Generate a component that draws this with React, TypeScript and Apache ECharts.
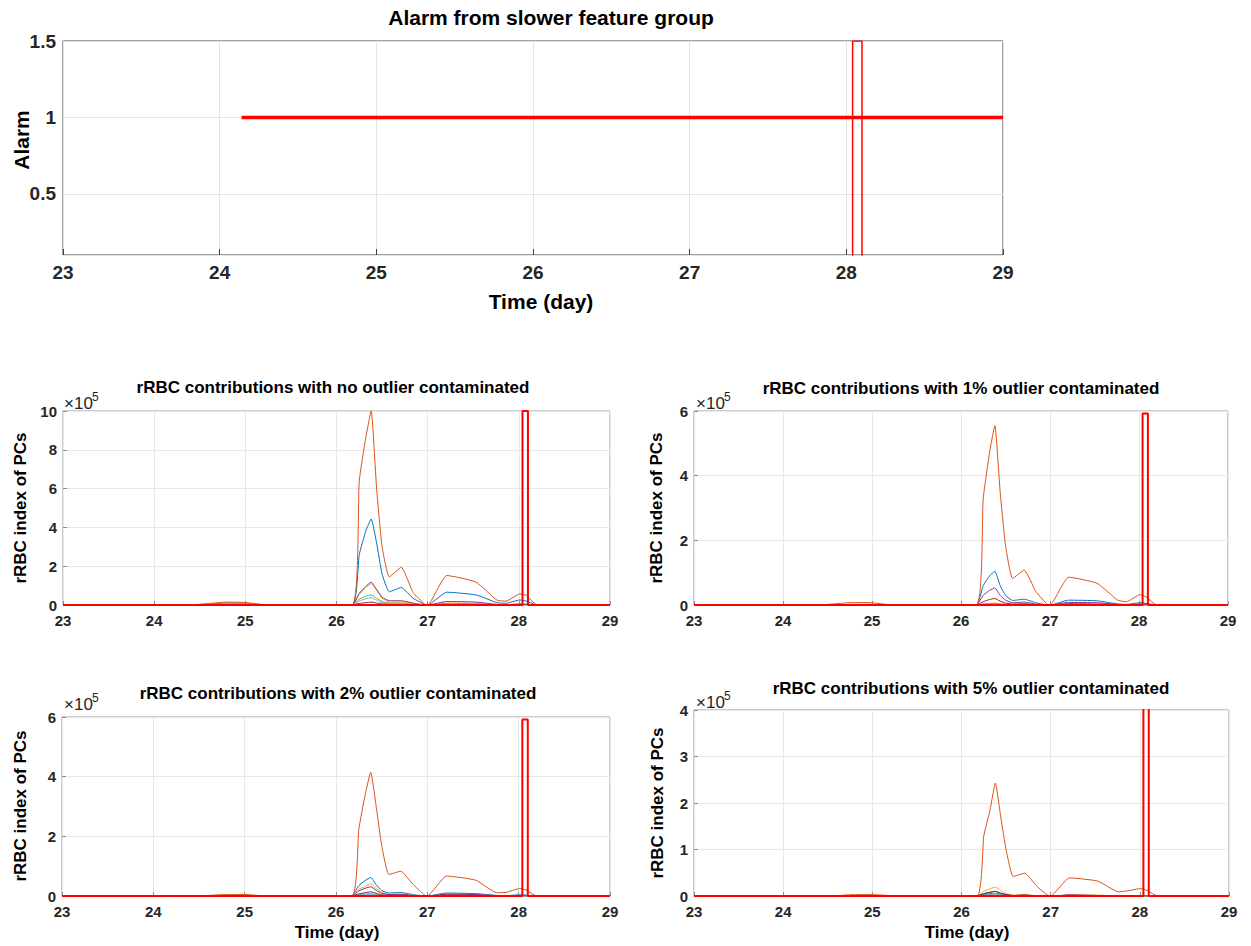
import React, { useEffect, useRef } from 'react';
import * as echarts from 'echarts';

const FONT = '"Liberation Sans", Arial, Helvetica, sans-serif';

// Shared time axis (days) for the contribution curves
const T = [23, 24.4, 24.6, 24.8, 25.0, 25.2, 26.17, 26.25, 26.32, 26.38, 26.44, 26.5, 26.58, 26.71, 26.84, 26.97, 27.0, 27.21, 27.53, 27.76, 27.86, 28.01, 28.08, 28.2, 29];

// Top chart: alarm from slower feature group
const alarmOnT = [24.14, 29];
const alarmOnV = [1, 1];
const blipT = [28.04, 28.04, 28.1, 28.1];
const blipV = [0, 1.5, 1.5, 0];

// Alarm overlay (red) in the contribution subplots (x10^5 units)
const alarmT = [23, 28.04, 28.04, 28.1, 28.1, 29];
const alarmA = [0, 0, 10, 10, 0, 0];
const alarmB = [0, 0, 5.92, 5.92, 0, 0];
const alarmC = [0, 0, 5.92, 5.92, 0, 0];
const alarmD = [0, 0, 5, 5, 0, 0];

// No outlier contaminated (x10^5)
const A_blue = [0, 0, 0.05, 0.1, 0.09, 0.02, 0, 2.6, 3.8, 4.43, 3.2, 1.6, 0.68, 0.9, 0.35, 0.02, 0, 0.66, 0.52, 0.12, 0.09, 0.26, 0.2, 0, 0];
const A_orange = [0, 0, 0.08, 0.15, 0.13, 0.02, 0, 6.4, 8.6, 10.0, 6.0, 3.0, 1.45, 1.95, 0.65, 0.03, 0, 1.52, 1.18, 0.25, 0.2, 0.57, 0.5, 0, 0];
const A_yellow = [0, 0, 0.03, 0.06, 0.05, 0.01, 0, 0.55, 0.9, 1.1, 0.75, 0.35, 0.15, 0.16, 0.07, 0, 0, 0.1, 0.08, 0.02, 0.01, 0.04, 0.03, 0, 0];
const A_purple = [0, 0, 0.02, 0.04, 0.03, 0, 0, 0.6, 0.95, 1.18, 0.8, 0.4, 0.22, 0.22, 0.1, 0, 0, 0.18, 0.15, 0.03, 0.02, 0.05, 0.04, 0, 0];
const A_green = [0, 0, 0.01, 0.02, 0.02, 0, 0, 0.3, 0.45, 0.52, 0.35, 0.18, 0.1, 0.1, 0.04, 0, 0, 0.08, 0.06, 0.01, 0.01, 0.02, 0.02, 0, 0];
const A_lightblue = [0, 0, 0.01, 0.02, 0.01, 0, 0, 0.2, 0.32, 0.38, 0.25, 0.12, 0.06, 0.06, 0.03, 0, 0, 0.04, 0.03, 0.01, 0, 0.01, 0.01, 0, 0];
const A_darkred = [0, 0, 0, 0.01, 0.01, 0, 0, 0.08, 0.12, 0.15, 0.1, 0.05, 0.03, 0.03, 0.01, 0, 0, 0.02, 0.02, 0, 0, 0.01, 0.01, 0, 0];

// 1% outlier contaminated
const B_blue = [0, 0, 0.01, 0.02, 0.02, 0, 0, 0.6, 0.9, 1.04, 0.6, 0.3, 0.14, 0.18, 0.07, 0, 0, 0.15, 0.13, 0.03, 0.02, 0.07, 0.05, 0, 0];
const B_orange = [0, 0, 0.04, 0.08, 0.07, 0.01, 0, 3.3, 4.7, 5.55, 3.5, 1.85, 0.82, 1.08, 0.42, 0.02, 0, 0.86, 0.67, 0.15, 0.1, 0.32, 0.25, 0, 0];
const B_yellow = [0, 0, 0.01, 0.02, 0.01, 0, 0, 0.03, 0.05, 0.06, 0.04, 0.02, 0.01, 0.01, 0, 0, 0, 0.01, 0.01, 0, 0, 0, 0, 0, 0];
const B_purple = [0, 0, 0, 0.01, 0.01, 0, 0, 0.3, 0.45, 0.53, 0.3, 0.15, 0.07, 0.09, 0.03, 0, 0, 0.08, 0.07, 0.02, 0.01, 0.03, 0.02, 0, 0];
const B_green = [0, 0, 0, 0.01, 0.01, 0, 0, 0.03, 0.04, 0.05, 0.03, 0.02, 0.01, 0.01, 0, 0, 0, 0.01, 0.01, 0, 0, 0, 0, 0, 0];
const B_lightblue = [0, 0, 0, 0, 0, 0, 0, 0.02, 0.03, 0.03, 0.02, 0.01, 0, 0.01, 0, 0, 0, 0.01, 0, 0, 0, 0, 0, 0, 0];
const B_darkred = [0, 0, 0, 0, 0, 0, 0, 0.1, 0.17, 0.2, 0.12, 0.06, 0.03, 0.04, 0.01, 0, 0, 0.04, 0.03, 0.01, 0, 0.01, 0.01, 0, 0];

// 2% outlier contaminated
const C_blue = [0, 0, 0.01, 0.02, 0.02, 0, 0, 0.35, 0.52, 0.62, 0.38, 0.18, 0.1, 0.12, 0.05, 0, 0, 0.1, 0.08, 0.02, 0.01, 0.04, 0.03, 0, 0];
const C_orange = [0, 0, 0.02, 0.05, 0.05, 0.01, 0, 2.24, 3.4, 4.15, 3.0, 1.7, 0.72, 0.83, 0.4, 0.03, 0, 0.67, 0.53, 0.11, 0.12, 0.25, 0.2, 0, 0];
const C_yellow = [0, 0, 0.01, 0.02, 0.01, 0, 0, 0.22, 0.33, 0.4, 0.25, 0.12, 0.05, 0.06, 0.02, 0, 0, 0.05, 0.04, 0.01, 0, 0.02, 0.01, 0, 0];
const C_purple = [0, 0, 0, 0.01, 0.01, 0, 0, 0.17, 0.26, 0.31, 0.19, 0.09, 0.05, 0.06, 0.02, 0, 0, 0.06, 0.05, 0.01, 0, 0.02, 0.01, 0, 0];
const C_green = [0, 0, 0, 0.01, 0.01, 0, 0, 0.04, 0.07, 0.08, 0.05, 0.02, 0.01, 0.01, 0, 0, 0, 0.01, 0.01, 0, 0, 0, 0, 0, 0];
const C_lightblue = [0, 0, 0, 0, 0, 0, 0, 0.03, 0.04, 0.05, 0.03, 0.01, 0.01, 0.01, 0, 0, 0, 0.01, 0.01, 0, 0, 0, 0, 0, 0];
const C_darkred = [0, 0, 0, 0, 0, 0, 0, 0.07, 0.11, 0.14, 0.09, 0.04, 0.02, 0.03, 0.01, 0, 0, 0.03, 0.02, 0.01, 0, 0.01, 0, 0, 0];

// 5% outlier contaminated
const D_blue = [0, 0, 0, 0.01, 0.01, 0, 0, 0.03, 0.05, 0.06, 0.04, 0.02, 0.01, 0.01, 0, 0, 0, 0.01, 0.01, 0, 0, 0, 0, 0, 0];
const D_orange = [0, 0, 0.01, 0.03, 0.03, 0.01, 0, 1.29, 1.85, 2.43, 1.7, 1.0, 0.42, 0.49, 0.22, 0.01, 0, 0.39, 0.32, 0.09, 0.11, 0.16, 0.12, 0, 0];
const D_yellow = [0, 0, 0, 0.01, 0.01, 0, 0, 0.1, 0.16, 0.19, 0.12, 0.05, 0.02, 0.03, 0.01, 0, 0, 0.02, 0.02, 0, 0, 0.01, 0, 0, 0];
const D_purple = [0, 0, 0, 0, 0, 0, 0, 0.05, 0.08, 0.1, 0.06, 0.03, 0.01, 0.02, 0, 0, 0, 0.02, 0.01, 0, 0, 0, 0, 0, 0];
const D_green = [0, 0, 0, 0, 0, 0, 0, 0.02, 0.03, 0.04, 0.02, 0.01, 0, 0.01, 0, 0, 0, 0.01, 0, 0, 0, 0, 0, 0, 0];
const D_lightblue = [0, 0, 0, 0, 0, 0, 0, 0.02, 0.04, 0.05, 0.03, 0.01, 0, 0.01, 0, 0, 0, 0.01, 0, 0, 0, 0, 0, 0, 0];
const D_darkred = [0, 0, 0, 0, 0, 0, 0, 0.05, 0.08, 0.1, 0.06, 0.03, 0.01, 0.02, 0, 0, 0, 0.02, 0.01, 0, 0, 0, 0, 0, 0];

const COLORS = ['#0072BD', '#D95319', '#EDB120', '#7E2F8E', '#77AC30', '#4DBEEE', '#A2142F'];

const subplotTitles = [
  'rRBC contributions with no outlier contaminated',
  'rRBC contributions with 1% outlier contaminated',
  'rRBC contributions with 2% outlier contaminated',
  'rRBC contributions with 5% outlier contaminated',
];
const subplotSeries = [
  [A_blue, A_orange, A_yellow, A_purple, A_green, A_lightblue, A_darkred],
  [B_blue, B_orange, B_yellow, B_purple, B_green, B_lightblue, B_darkred],
  [C_blue, C_orange, C_yellow, C_purple, C_green, C_lightblue, C_darkred],
  [D_blue, D_orange, D_yellow, D_purple, D_green, D_lightblue, D_darkred],
];
const subplotAlarm = [alarmA, alarmB, alarmC, alarmD];
const subplotYMax = [10, 6, 6, 4];
const subplotYInterval = [2, 2, 2, 1];

const grids = [
  { left: 63, top: 41, width: 940, height: 214 },
  { left: 63, top: 411, width: 547, height: 194 },
  { left: 694, top: 411, width: 534, height: 194 },
  { left: 62, top: 717, width: 548, height: 179 },
  { left: 694, top: 710, width: 535, height: 186 },
];

const pairs = (xs: number[], ys: number[]) => xs.map((x, i) => [x, ys[i]]);

function buildOption() {
  const TXT = '#262626';
  const xAxes: any[] = [];
  const yAxes: any[] = [];
  const series: any[] = [];

  // top chart
  xAxes.push({
    type: 'value', gridIndex: 0, min: 23, max: 29, interval: 1,
    axisLine: { show: false },
    axisTick: { show: true, inside: true, length: 6, lineStyle: { color: '#404040' } },
    axisLabel: { fontFamily: FONT, fontWeight: 'bold', fontSize: 19, color: TXT, margin: 8 },
    splitLine: { show: true, lineStyle: { color: '#e3e3e3', width: 1 } },
  });
  yAxes.push({
    type: 'value', gridIndex: 0, min: 0.1, max: 1.5, splitNumber: 3,
    axisLine: { show: false },
    axisTick: { show: false },
    axisLabel: {
      fontFamily: FONT, fontWeight: 'bold', fontSize: 19, color: TXT, margin: 7,
      formatter: (v: number) => (v < 0.2 ? '' : String(v)),
    },
    splitLine: { show: true, lineStyle: { color: '#e3e3e3', width: 1 } },
  });
  series.push({
    type: 'line', xAxisIndex: 0, yAxisIndex: 0, data: pairs(blipT, blipV),
    showSymbol: false, symbol: 'none', lineStyle: { color: '#ff0000', width: 1.5 }, z: 3,
  });
  series.push({
    type: 'line', xAxisIndex: 0, yAxisIndex: 0, data: pairs(alarmOnT, alarmOnV),
    showSymbol: false, symbol: 'none', lineStyle: { color: '#ff0000', width: 3.5 }, z: 4,
  });

  for (let k = 0; k < 4; k++) {
    const gi = k + 1;
    xAxes.push({
      type: 'value', gridIndex: gi, min: 23, max: 29, interval: 1,
      axisLine: { show: false },
      axisTick: { show: true, inside: true, length: 4, lineStyle: { color: '#8c8c8c' } },
      axisLabel: { fontFamily: FONT, fontWeight: 'bold', fontSize: 15, color: TXT, margin: 8 },
      splitLine: { show: true, lineStyle: { color: '#e8e8e8', width: 1 } },
    });
    yAxes.push({
      type: 'value', gridIndex: gi, min: 0, max: subplotYMax[k], interval: subplotYInterval[k],
      axisLine: { show: false },
      axisTick: { show: true, inside: true, length: 4, lineStyle: { color: '#8c8c8c' } },
      axisLabel: { fontFamily: FONT, fontWeight: 'bold', fontSize: 15, color: TXT, margin: 6 },
      splitLine: { show: true, lineStyle: { color: '#e8e8e8', width: 1 } },
    });
    subplotSeries[k].forEach((vals, j) => {
      series.push({
        type: 'line', xAxisIndex: gi, yAxisIndex: gi, data: pairs(T, vals),
        showSymbol: false, symbol: 'none', smooth: 0.15,
        lineStyle: { color: COLORS[j], width: 1 }, z: 2,
      });
    });
    series.push({
      type: 'line', xAxisIndex: gi, yAxisIndex: gi, data: pairs(alarmT, subplotAlarm[k]),
      showSymbol: false, symbol: 'none', lineStyle: { color: '#ff0000', width: 2 }, z: 5,
    });
  }

  const boldText = (x: number, y: number, text: string, size: number, rotate = 0) => ({
    type: 'text', x, y, rotation: rotate, silent: true,
    style: {
      text, fill: '#000', fontSize: size, fontWeight: 'bold', fontFamily: FONT,
      align: 'center', verticalAlign: 'middle',
    },
  });
  const expText = (x: number, y: number) => ({
    type: 'group', x, y, silent: true,
    children: [
      {
        type: 'text', x: 0, y: 0, silent: true,
        style: { text: '×10', fill: '#262626', fontSize: 17, fontFamily: FONT, align: 'left', verticalAlign: 'middle' },
      },
      {
        type: 'text', x: 28, y: -6, silent: true,
        style: { text: '5', fill: '#262626', fontSize: 12, fontFamily: FONT, align: 'left', verticalAlign: 'middle' },
      },
    ],
  });

  const graphic: any[] = [
    boldText(551, 17, 'Alarm from slower feature group', 21),
    boldText(21, 140, 'Alarm', 21, Math.PI / 2),
    boldText(541, 301, 'Time (day)', 21),
    boldText(333, 387, subplotTitles[0], 17),
    boldText(961, 388, subplotTitles[1], 17),
    boldText(338, 693, subplotTitles[2], 17),
    boldText(971, 688, subplotTitles[3], 17),
    boldText(20, 508, 'rRBC index of PCs', 17, Math.PI / 2),
    boldText(656, 508, 'rRBC index of PCs', 17, Math.PI / 2),
    boldText(20, 806, 'rRBC index of PCs', 17, Math.PI / 2),
    boldText(657, 803, 'rRBC index of PCs', 17, Math.PI / 2),
    boldText(337, 932, 'Time (day)', 17),
    boldText(967, 932, 'Time (day)', 17),
    expText(64, 403),
    expText(696, 403),
    expText(64, 704),
    expText(696, 702),
  ];

  return {
    animation: false,
    backgroundColor: '#ffffff',
    grid: grids.map((g, i) => ({
      ...g, show: true, backgroundColor: 'transparent',
      borderColor: i === 0 ? '#404040' : '#9a9a9a', borderWidth: 1, containLabel: false,
    })),
    xAxis: xAxes,
    yAxis: yAxes,
    series,
    graphic,
  };
}

export default function App() {
  const ref = useRef<HTMLDivElement>(null);
  useEffect(() => {
    if (!ref.current) return;
    const chart = echarts.init(ref.current, null, { renderer: 'svg' });
    chart.setOption(buildOption() as any);
    return () => chart.dispose();
  }, []);
  return (
    <div
      ref={ref}
      style={{ position: 'absolute', left: 0, top: 0, width: 1251, height: 946, background: '#fff' }}
    />
  );
}
